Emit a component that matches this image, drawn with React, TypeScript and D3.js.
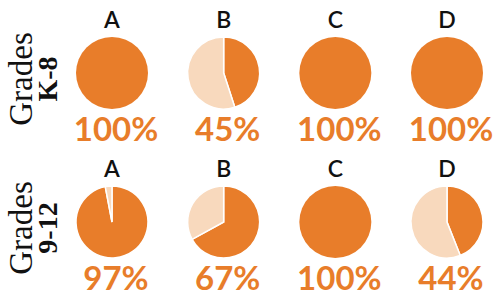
import React, { useEffect, useRef } from 'react';
import * as d3 from 'd3';

const columns = ['A', 'B', 'C', 'D'];
const rowLabels = ['K-8', '9-12'];
const k8Values = [100, 45, 100, 100];
const hsValues = [97, 67, 100, 44];

const ORANGE = '#e87d2a';
const LIGHT = '#f8d9bd';

const App: React.FC = () => {
  const svgRef = useRef<SVGSVGElement>(null);

  useEffect(() => {
    if (!svgRef.current) return;
    const svg = d3.select(svgRef.current);
    svg.selectAll('*').remove();

    const rows = [k8Values, hsValues];
    const radius = 36;

    const x = d3.scalePoint<string>().domain(columns).range([112, 447]);
    const y = d3.scalePoint<string>().domain(rowLabels).range([73, 222]);

    const pie = d3.pie<number>().sort(null).value(d => d);
    const arc = d3.arc<d3.PieArcDatum<number>>().innerRadius(0).outerRadius(radius);

    rowLabels.forEach((label, ri) => {
      const cy = y(label) || 0;

      // Row label, rotated
      const lg = svg.append('g').attr('transform', `translate(0,${cy + 6})`);
      lg.append('text')
        .attr('transform', 'translate(32,0) rotate(-90)')
        .attr('text-anchor', 'middle')
        .attr('font-family', '"Liberation Serif", serif')
        .attr('font-size', 33)
        .attr('fill', '#111')
        .text('Grades');
      lg.append('text')
        .attr('transform', 'translate(57,0) rotate(-90)')
        .attr('text-anchor', 'middle')
        .attr('font-family', '"Liberation Serif", serif')
        .attr('font-weight', 'bold')
        .attr('font-size', 28)
        .attr('fill', '#111')
        .text(label);

      columns.forEach((col, ci) => {
        const cx = x(col) || 0;
        const v = rows[ri][ci];
        const g = svg.append('g').attr('transform', `translate(${cx},${cy})`);

        g.append('text')
          .attr('y', -45)
          .attr('text-anchor', 'middle')
          .attr('font-family', 'Lato, sans-serif')
          .attr('font-weight', 600)
          .attr('font-size', 23)
          .attr('fill', '#111')
          .text(col);

        g.selectAll('path')
          .data(pie([v, 100 - v]))
          .enter()
          .append('path')
          .attr('d', arc)
          .attr('fill', (d, i) => (i === 0 ? ORANGE : LIGHT))
          .attr('stroke', '#fff')
          .attr('stroke-width', d => (d.value > 0 && d.value < 100 ? 1.5 : 0));

        g.append('text')
          .attr('x', 4)
          .attr('y', 68)
          .attr('text-anchor', 'middle')
          .attr('font-family', 'Lato, sans-serif')
          .attr('font-weight', 'bold')
          .attr('font-size', 33)
          .attr('fill', ORANGE)
          .text(`${v}%`);
      });
    });
  }, []);

  return (
    <svg
      ref={svgRef}
      width={495}
      height={295}
      style={{ position: 'absolute', left: 0, top: 0, background: '#fff' }}
    />
  );
};

export default App;
